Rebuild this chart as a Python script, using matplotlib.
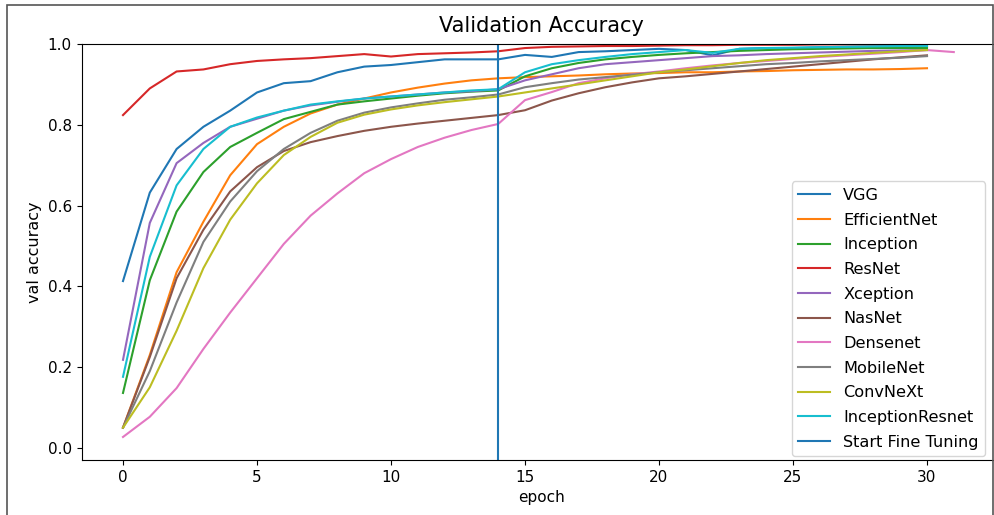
import matplotlib
matplotlib.use("Agg")
import matplotlib.pyplot as plt
from matplotlib.patches import Rectangle

vgg = [0.413, 0.632, 0.74, 0.795, 0.835, 0.88, 0.903, 0.908, 0.93, 0.944, 0.948, 0.955, 0.962, 0.962, 0.962,
       0.973, 0.968, 0.98, 0.982, 0.985, 0.988, 0.985, 0.972, 0.988, 0.99, 0.99, 0.992, 0.993, 0.994, 0.995, 0.995]
efficientnet = [0.05, 0.23, 0.435, 0.56, 0.675, 0.752, 0.795, 0.828, 0.85, 0.865, 0.88, 0.892, 0.902, 0.91, 0.915,
                0.918, 0.92, 0.922, 0.925, 0.927, 0.928, 0.93, 0.93, 0.932, 0.933, 0.935, 0.936, 0.937, 0.937, 0.938, 0.94]
inception = [0.136, 0.415, 0.585, 0.683, 0.745, 0.78, 0.814, 0.832, 0.85, 0.858, 0.865, 0.872, 0.878, 0.882, 0.885,
             0.92, 0.94, 0.953, 0.962, 0.968, 0.973, 0.977, 0.98, 0.983, 0.985, 0.987, 0.988, 0.989, 0.99, 0.99, 0.99]
resnet = [0.824, 0.89, 0.932, 0.937, 0.95, 0.958, 0.962, 0.965, 0.97, 0.975, 0.969, 0.975, 0.977, 0.979, 0.982,
          0.99, 0.993, 0.994, 0.995, 0.995, 0.996, 0.997, 0.997, 0.998, 0.998, 0.998, 0.999, 0.999, 0.999, 1.0, 1.0]
xception = [0.218, 0.557, 0.705, 0.755, 0.795, 0.815, 0.835, 0.848, 0.857, 0.865, 0.87, 0.875, 0.88, 0.883, 0.888,
            0.91, 0.925, 0.94, 0.95, 0.955, 0.96, 0.965, 0.97, 0.972, 0.975, 0.977, 0.979, 0.981, 0.983, 0.984, 0.985]
nasnet = [0.05, 0.225, 0.42, 0.54, 0.635, 0.695, 0.735, 0.757, 0.772, 0.785, 0.795, 0.803, 0.81, 0.817, 0.824,
          0.836, 0.86, 0.878, 0.893, 0.905, 0.915, 0.92, 0.926, 0.932, 0.938, 0.944, 0.95, 0.956, 0.962, 0.967, 0.972]
densenet = [0.027, 0.077, 0.148, 0.245, 0.335, 0.42, 0.505, 0.575, 0.63, 0.68, 0.715, 0.745, 0.768, 0.787, 0.802,
            0.861, 0.881, 0.903, 0.915, 0.925, 0.932, 0.94, 0.947, 0.953, 0.958, 0.963, 0.968, 0.972, 0.976, 0.98, 0.985, 0.98]
mobilenet = [0.05, 0.19, 0.36, 0.51, 0.61, 0.685, 0.74, 0.78, 0.81, 0.83, 0.843, 0.853, 0.862, 0.868, 0.875,
             0.893, 0.903, 0.912, 0.918, 0.924, 0.93, 0.935, 0.94, 0.945, 0.95, 0.953, 0.957, 0.96, 0.963, 0.966, 0.97]
convnext = [0.05, 0.15, 0.29, 0.445, 0.565, 0.655, 0.725, 0.77, 0.805, 0.825, 0.838, 0.848, 0.856, 0.863, 0.87,
            0.88, 0.89, 0.9, 0.91, 0.92, 0.93, 0.937, 0.945, 0.953, 0.96, 0.965, 0.97, 0.974, 0.978, 0.982, 0.985]
inceptionresnet = [0.176, 0.473, 0.65, 0.74, 0.795, 0.818, 0.835, 0.85, 0.858, 0.865, 0.87, 0.875, 0.88, 0.885, 0.888,
                   0.93, 0.95, 0.96, 0.968, 0.975, 0.98, 0.985, 0.978, 0.988, 0.99, 0.991, 0.992, 0.993, 0.994, 0.995, 0.995]

series = [("VGG", vgg), ("EfficientNet", efficientnet), ("Inception", inception), ("ResNet", resnet),
          ("Xception", xception), ("NasNet", nasnet), ("Densenet", densenet), ("MobileNet", mobilenet),
          ("ConvNeXt", convnext), ("InceptionResnet", inceptionresnet)]
fine_tune_epoch = 14

W, H = 994, 515
fig = plt.figure(figsize=(W / 100, H / 100), dpi=100)
ax_l, ax_r, ax_t, ax_b = 81.5, 1002, 44, 460
ax = fig.add_axes([ax_l / W, 1 - ax_b / H, (ax_r - ax_l) / W, (ax_b - ax_t) / H])

for name, vals in series:
    ax.plot(range(len(vals)), vals, label=name, lw=1.5)
ax.axvline(fine_tune_epoch, color="C0", label="Start Fine Tuning", lw=1.5)

ax.set_xlim((ax_l - 123) / 26.8, (ax_r - 123) / 26.8)
ax.set_ylim(-0.03, 1.0)
ax.set_xticks([0, 5, 10, 15, 20, 25, 30])
ax.set_yticks([0.0, 0.2, 0.4, 0.6, 0.8, 1.0])
ax.tick_params(labelsize=11)
ax.set_title("Validation Accuracy", fontsize=15, pad=9)
ax.set_xlabel("epoch", fontsize=11)
ax.set_ylabel("val accuracy", fontsize=11.5)
ax.legend(loc="lower right", fontsize=11.6, labelspacing=0.6,
          bbox_to_anchor=((985 - ax_l) / (ax_r - ax_l), (460 - 456) / (ax_b - ax_t)), borderaxespad=0)

fig.patches.append(Rectangle((7 / W, -0.1), (993 - 7) / W, 1.1 - 5 / H, transform=fig.transFigure,
                             fill=False, edgecolor="#555555", lw=1.2))
fig.savefig("out.png", dpi=100)
